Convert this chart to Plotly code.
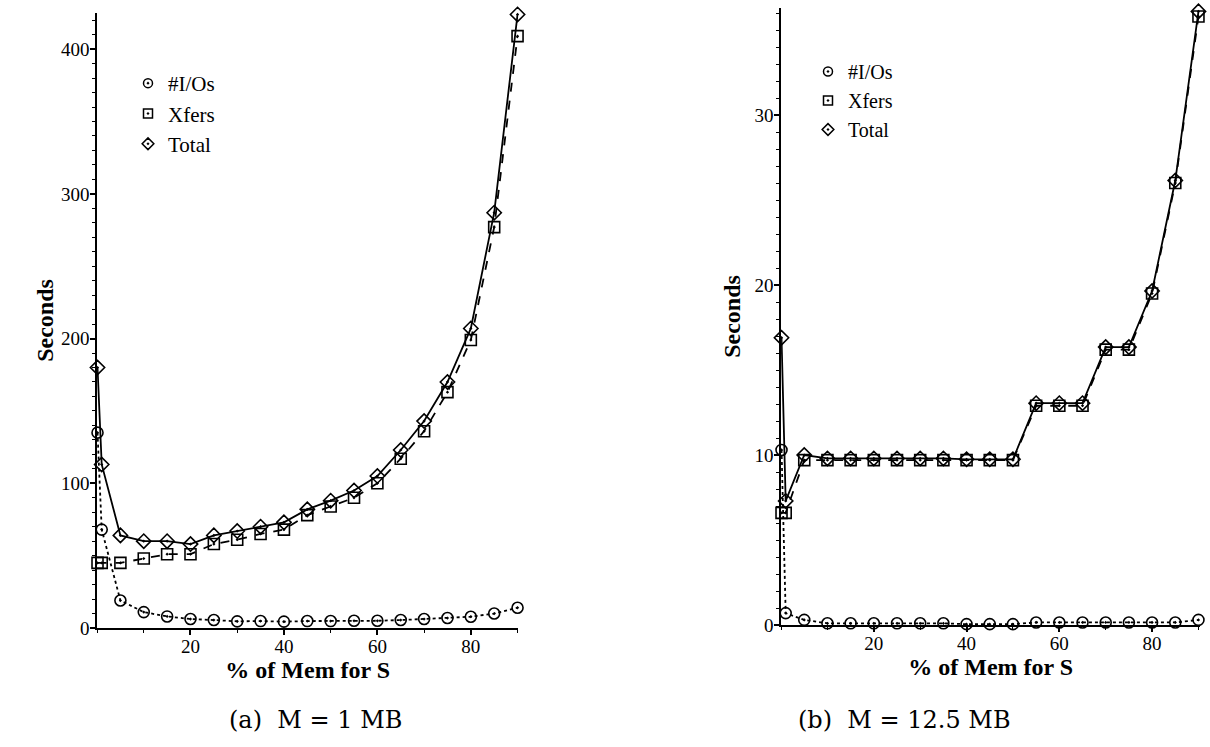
import plotly.graph_objects as go

# ---------------- data ----------------
mem_pct = [0.1, 1, 5, 10, 15, 20, 25, 30, 35, 40, 45, 50, 55, 60, 65, 70, 75, 80, 85, 90]

# (a) M = 1 MB
ios_a = [135, 68, 19, 11, 8, 6.2, 5.5, 4.6, 4.8, 4.4, 4.8, 4.8, 5, 5, 5.5, 6.2, 6.9, 7.8, 10, 14]
xfers_a = [45, 45, 45, 48, 51, 51, 58, 61, 65, 68, 78, 84, 90, 100, 117, 136, 163, 199, 277, 409]
total_a = [180, 113, 64, 60, 60, 58, 64, 67, 70, 73, 82, 88, 95, 105, 123, 143, 170, 207, 287, 424]

# (b) M = 12.5 MB
ios_b = [10.3, 0.7, 0.3, 0.1, 0.1, 0.1, 0.1, 0.1, 0.1, 0.05, 0.05, 0.05, 0.15, 0.15, 0.15, 0.15, 0.15, 0.15, 0.15, 0.3]
xfers_b = [6.6, 6.6, 9.7, 9.7, 9.7, 9.7, 9.7, 9.7, 9.7, 9.7, 9.7, 9.7, 12.9, 12.9, 12.9, 16.2, 16.2, 19.5, 26.0, 35.8]
total_b = [16.9, 7.3, 10.0, 9.8, 9.8, 9.8, 9.8, 9.8, 9.8, 9.75, 9.75, 9.75, 13.05, 13.05, 13.05, 16.35, 16.35, 19.65, 26.15, 36.1]

series_names = ["#I/Os", "Xfers", "Total"]
left_ticks = [0, 100, 200, 300, 400]
right_ticks = [0, 10, 20, 30]
x_ticks = [20, 40, 60, 80]
captions = ["(a)\u00a0 M\u00a0=\u00a01\u00a0MB", "(b)\u00a0 M\u00a0=\u00a012.5\u00a0MB"]

FONT = "Liberation Serif"
styles = [
    dict(dash="dot", symbol="circle-open-dot"),
    dict(dash="dash", symbol="square-open-dot"),
    dict(dash="solid", symbol="diamond-open-dot"),
]

fig = go.Figure()

def add_panel(ys, xa, ya, legend):
    for name, y, st in zip(series_names, ys, styles):
        fig.add_trace(go.Scatter(
            x=mem_pct, y=y, name=name, mode="lines+markers",
            xaxis=xa, yaxis=ya, showlegend=False, cliponaxis=False,
            line=dict(color="black", width=1.8, dash=st["dash"]),
            marker=dict(symbol=st["symbol"], size=11, color="black",
                        line=dict(color="black", width=1.6)),
        ))
        # legend entry (marker only, like the original key)
        fig.add_trace(go.Scatter(
            x=[None], y=[None], name=name, mode="markers",
            xaxis=xa, yaxis=ya, legend=legend, showlegend=True,
            marker=dict(symbol=st["symbol"], size=9, color="black",
                        line=dict(color="black", width=1.5)),
        ))

add_panel([ios_a, xfers_a, total_a], "x", "y", "legend")
add_panel([ios_b, xfers_b, total_b], "x2", "y2", "legend2")

tickfont = dict(family=FONT, size=19, color="black")
titlefont = dict(family=FONT, size=24, color="black")

def xaxis(domain, rng, anchor):
    return dict(domain=domain, range=rng, anchor=anchor, showgrid=False, zeroline=False,
                automargin=False,
                showline=True, linecolor="black", linewidth=1.6,
                tickvals=x_ticks, ticks="outside", ticklen=5, tickwidth=1.5, tickcolor="black",
                ticklabelstandoff=-5,
                minor=dict(dtick=10, tick0=0, ticks="outside", ticklen=3, tickcolor="black", tickwidth=1),
                tickfont=tickfont,
                title=dict(text="<b>% of Mem for S</b>", font=titlefont, standoff=4))

def yaxis(domain, rng, anchor, ticks, minor_dtick, standoff):
    return dict(domain=domain, range=rng, anchor=anchor, showgrid=False, zeroline=False,
                automargin=False,
                showline=True, linecolor="black", linewidth=1.6,
                tickvals=ticks, ticks="outside", ticklen=5, tickwidth=1.5, tickcolor="black",
                ticklabelstandoff=-3,
                minor=dict(dtick=minor_dtick, tick0=0, ticks="outside", ticklen=3, tickcolor="black", tickwidth=1),
                tickfont=tickfont,
                title=dict(text="<b>Seconds</b>", font=titlefont, standoff=standoff))

fig.update_layout(
    width=1210, height=747,
    margin=dict(l=0, r=0, t=0, b=0, autoexpand=False),
    paper_bgcolor="white", plot_bgcolor="white",
    showlegend=True,
    xaxis=xaxis([0.0802, 0.4285], [0, 90.2], "y"),
    yaxis=yaxis([0.1593, 0.9826], [0, 425], "x", left_ticks, 10, 1),
    xaxis2=xaxis([0.6455, 0.992], [0, 90.4], "y2"),
    yaxis2=yaxis([0.1633, 0.9893], [0, 36.3], "x2", right_ticks, 1, 7),
    legend=dict(x=128 / 1210, y=1 - 63 / 747, xanchor="left", yanchor="top", bgcolor="rgba(0,0,0,0)",
                font=dict(family=FONT, size=21, color="black"), itemwidth=30, tracegroupgap=0),
    legend2=dict(x=808 / 1210, y=1 - 52 / 747, xanchor="left", yanchor="top", bgcolor="rgba(0,0,0,0)",
                 font=dict(family=FONT, size=20, color="black"), itemwidth=30, tracegroupgap=0),
    annotations=[
        dict(text=captions[0], x=315 / 1210, y=1 - 720 / 747, xref="paper", yref="paper",
             xanchor="center", yanchor="middle",
             showarrow=False, font=dict(family="DejaVu Serif", size=24, color="black")),
        dict(text=captions[1], x=905 / 1210, y=1 - 720 / 747, xref="paper", yref="paper",
             xanchor="center", yanchor="middle",
             showarrow=False, font=dict(family="DejaVu Serif", size=24, color="black")),
    ],
)

fig.write_html("out.html", config={"displayModeBar": False},
               post_script="document.body.style.margin='0';")
